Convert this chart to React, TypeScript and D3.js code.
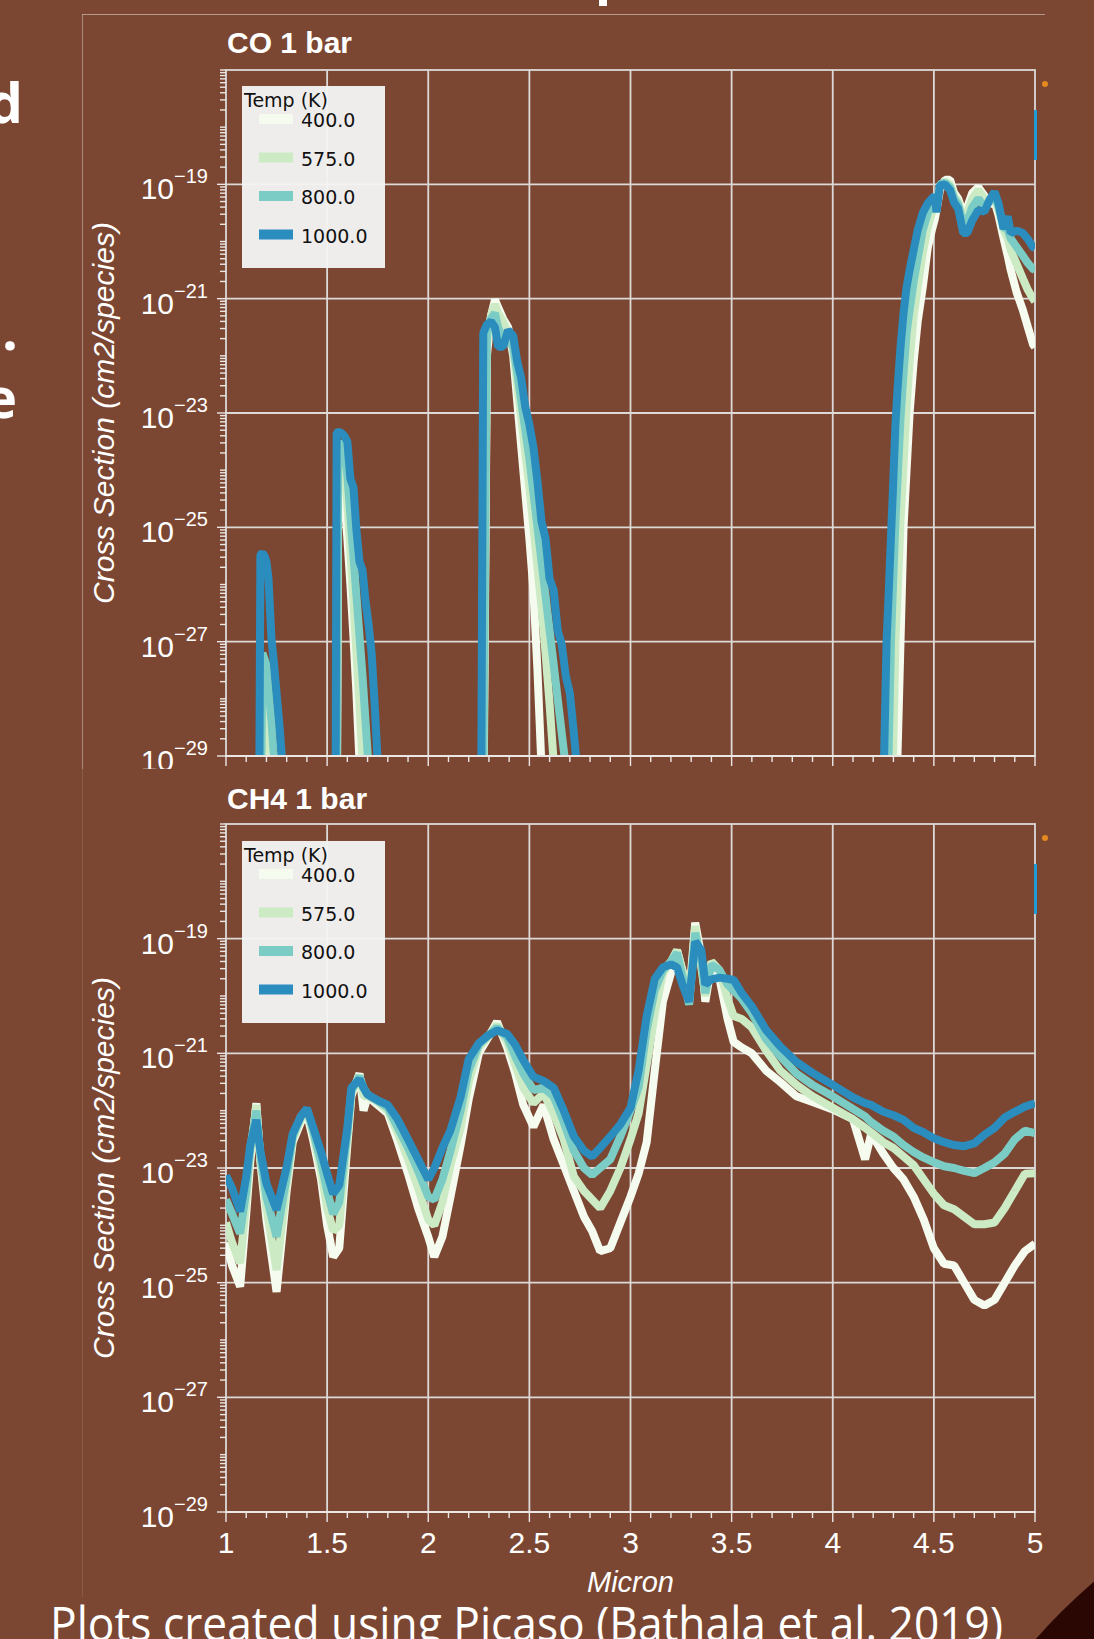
import React from "react";
import * as d3 from "d3";

const WIDTH = 1094;
const HEIGHT = 1639;

// ---------- legend / series meta ----------
const tempLabels = ["400.0", "575.0", "800.0", "1000.0"];
const tempColors = ["#f5fbee", "#ccebc5", "#7bccc4", "#2b8cbe"];

// ---------- axes ----------
const xTickValues = [1, 1.5, 2, 2.5, 3, 3.5, 4, 4.5, 5];
const xTickLabels = ["1", "1.5", "2", "2.5", "3", "3.5", "4", "4.5", "5"];
const yLabelExponents = [-19, -21, -23, -25, -27, -29];

// ---------- CO 1 bar (values are log10 of cross section, cm2/species) ----------
const coWavelength = [
  1.0,
  1.155, 1.165, 1.17, 1.18, 1.19, 1.2, 1.21, 1.225, 1.235, 1.25, 1.265, 1.28, 1.295,
  1.535, 1.542, 1.547, 1.555, 1.57, 1.585, 1.6, 1.615, 1.63, 1.645, 1.66, 1.675, 1.69, 1.705, 1.72, 1.735, 1.75, 1.765,
  2.25, 2.262, 2.272, 2.29, 2.31, 2.33, 2.345, 2.37, 2.395, 2.42, 2.44, 2.46, 2.48, 2.5, 2.52, 2.54, 2.56, 2.58, 2.6, 2.62, 2.64, 2.66, 2.68, 2.7, 2.72, 2.74, 2.76,
  4.23, 4.245, 4.254, 4.266, 4.276, 4.288, 4.298, 4.31, 4.32, 4.335, 4.35, 4.365, 4.38, 4.4, 4.42, 4.445, 4.47, 4.49, 4.505, 4.513, 4.53, 4.555, 4.58, 4.6, 4.62, 4.645, 4.665, 4.69, 4.72, 4.75, 4.775, 4.8, 4.82, 4.845, 4.865, 4.88, 4.91, 4.94, 4.965, 4.99, 5.0,
];
const coLog400 = [
  -31,
  -31, -31, -31, -31, -30, -28.5, -28.8, -29.4, -31, -31, -31, -31, -31,
  -31, -31, -31, -24.4, -24.2, -24.4, -25.2, -26.0, -26.9, -27.9, -29.1, -31, -31, -31, -31, -31, -31, -31,
  -31, -31, -30.5, -22.0, -21.3, -21.02, -21.15, -21.35, -21.5, -22.0, -22.8, -23.6, -24.4, -25.2, -26.1, -27.5, -29.2, -31, -31, -31, -31, -31, -31, -31, -31, -31, -31,
  -31, -31, -31, -31, -31, -31, -31, -31, -29.0, -27.0, -25.0, -24.0, -23.0, -22.1, -21.4, -20.8, -20.1, -19.8, -19.6, -19.45, -19.1, -18.92, -18.92, -19.15, -19.25, -19.5, -19.4, -19.15, -19.05, -19.2, -19.35, -19.3, -19.55, -19.95, -20.25, -20.5, -20.9, -21.2, -21.5, -21.8, -21.85,
];
const coLog575 = [
  -31,
  -31, -31, -31, -30, -27.9, -28.0, -28.3, -28.9, -29.4, -31, -31, -31, -31,
  -31, -31, -30.5, -24.0, -23.8, -23.9, -24.6, -25.4, -26.3, -27.2, -28.1, -29.1, -31, -31, -31, -31, -31, -31,
  -31, -31, -30, -21.8, -21.3, -21.1, -21.25, -21.4, -21.6, -21.9, -22.5, -23.1, -23.7, -24.3, -25.0, -25.7, -26.4, -27.2, -28.1, -29.1, -31, -31, -31, -31, -31, -31, -31,
  -31, -31, -31, -31, -31, -31, -29.0, -27.0, -26.2, -24.9, -23.9, -22.9, -22.1, -21.3, -20.8, -20.2, -19.75, -19.5, -19.4, -19.3, -19.05, -18.95, -19.0, -19.2, -19.3, -19.6, -19.5, -19.25, -19.1, -19.25, -19.3, -19.25, -19.45, -19.8, -19.95, -20.15, -20.4, -20.65, -20.85, -21.0, -21.05,
];
const coLog800 = [
  -31,
  -31, -31, -31, -27.2, -27.3, -27.4, -27.8, -28.4, -28.9, -29.5, -31, -31, -31,
  -31, -31, -29.8, -23.6, -23.5, -23.6, -24.1, -24.8, -25.5, -26.2, -26.9, -27.6, -28.4, -29.2, -31, -31, -31, -31,
  -31, -31, -29.5, -21.6, -21.35, -21.25, -21.5, -21.7, -21.7, -21.85, -22.3, -22.8, -23.3, -23.8, -24.4, -25.0, -25.6, -26.2, -26.8, -27.4, -28.0, -28.6, -29.2, -31, -31, -31, -31,
  -31, -31, -31, -31, -29.0, -27.0, -26.0, -24.9, -24.2, -23.1, -22.3, -21.6, -21.2, -20.7, -20.3, -19.8, -19.5, -19.35, -19.25, -19.35, -19.0, -18.97, -19.05, -19.25, -19.35, -19.7, -19.65, -19.4, -19.25, -19.4, -19.3, -19.2, -19.4, -19.75, -19.8, -19.95, -20.1, -20.25, -20.38, -20.48, -20.5,
];
const coLog1000 = [
  -31,
  -31, -29.3, -25.48, -25.45, -25.5, -25.6, -25.9, -26.97, -27.3, -27.9, -28.5, -29.2, -31,
  -31, -29.5, -23.35, -23.33, -23.35, -23.4, -23.5, -24.15, -24.3, -25.05, -25.6, -25.75, -26.3, -26.7, -27.2, -28.1, -29.1, -31,
  -31, -29.5, -21.6, -21.45, -21.4, -21.5, -21.84, -21.84, -21.55, -21.65, -22.1, -22.4, -22.9, -23.2, -23.6, -24.2, -24.9, -25.2, -25.9, -26.1, -26.8, -27.05, -27.6, -27.9, -28.6, -29.4, -31,
  -31, -31, -29.0, -27.0, -26.2, -25.15, -24.3, -23.2, -22.6, -21.85, -21.25, -20.8, -20.5, -20.15, -19.8, -19.5, -19.33, -19.25, -19.2, -19.49, -19.02, -19.0, -19.1, -19.32, -19.42, -19.85, -19.85, -19.63, -19.45, -19.48, -19.27, -19.13, -19.34, -19.78, -19.56, -19.85, -19.81, -19.85, -19.96, -20.1, -20.12,
];

// ---------- CH4 1 bar (log10 of cross section) ----------
const ch4Wavelength = [
  1.0, 1.03, 1.07, 1.1, 1.12, 1.15, 1.17, 1.2, 1.25, 1.3,
  1.33, 1.37, 1.4, 1.43, 1.47, 1.5, 1.53, 1.56, 1.6, 1.62,
  1.66, 1.68, 1.7, 1.75, 1.8, 1.85, 1.9, 1.95, 2.0, 2.03,
  2.07, 2.11, 2.16, 2.2, 2.25, 2.3, 2.34, 2.39, 2.43, 2.47,
  2.52, 2.57, 2.62, 2.67, 2.72, 2.77, 2.81, 2.85, 2.9, 2.95,
  3.0, 3.04, 3.08, 3.12, 3.16, 3.2, 3.23, 3.26, 3.29, 3.32,
  3.35, 3.37, 3.4, 3.44, 3.48, 3.51, 3.55, 3.6, 3.67, 3.74,
  3.82, 3.9, 4.0, 4.1, 4.16, 4.19, 4.25, 4.3, 4.35, 4.4,
  4.45, 4.5, 4.55, 4.6, 4.65, 4.7, 4.75, 4.8, 4.85, 4.9,
  4.95, 5.0,
];
const ch4Log400 = [
  -24.3, -24.7, -25.07, -23.8, -22.9, -21.87, -22.9, -23.9, -25.16, -23.4,
  -22.55, -22.2, -22.05, -22.5, -23.2, -24.0, -24.55, -24.4, -22.6, -21.75,
  -21.35, -22.0, -21.75, -21.9, -22.05, -22.55, -23.1, -23.7, -24.2, -24.55,
  -24.2, -23.5, -22.6, -21.8, -21.0, -20.7, -20.45, -20.9, -21.35, -21.9,
  -22.28, -21.9, -22.5, -22.95, -23.4, -23.85, -24.1, -24.45, -24.4, -23.95,
  -23.5, -23.1, -22.55, -21.3, -20.1, -19.6, -19.2, -19.6, -20.0, -18.72,
  -19.3, -20.1, -19.45, -19.7, -20.4, -20.8, -20.9, -21.0, -21.3, -21.5,
  -21.75, -21.85, -21.98, -22.15, -22.85, -22.4, -22.75, -23.0, -23.2, -23.5,
  -23.9, -24.4, -24.67, -24.7, -25.0, -25.3, -25.4, -25.3, -25.0, -24.7,
  -24.45, -24.32,
];
const ch4Log575 = [
  -23.95, -24.3, -24.66, -23.6, -22.75, -21.9, -22.85, -23.7, -24.78, -23.3,
  -22.5, -22.15, -22.0, -22.4, -23.05, -23.7, -24.1, -24.0, -22.5, -21.7,
  -21.38, -21.75, -21.75, -21.85, -22.0, -22.4, -22.85, -23.35, -23.9, -24.0,
  -23.6, -22.95, -22.3, -21.5, -20.9, -20.7, -20.5, -20.8, -21.2, -21.6,
  -21.87, -21.7, -22.05, -22.5, -23.15, -23.4, -23.55, -23.7, -23.4, -23.0,
  -22.5, -22.05, -21.2, -20.3, -19.6, -19.4, -19.2, -19.6, -20.1, -18.78,
  -19.5, -20.0, -19.4, -19.55, -20.05, -20.35, -20.4, -20.55, -20.95, -21.3,
  -21.55, -21.75, -21.95, -22.15, -22.3, -22.38, -22.55, -22.65, -22.8, -22.95,
  -23.2, -23.45, -23.65, -23.72, -23.85, -23.98, -23.98, -23.95, -23.7, -23.4,
  -23.1, -23.09,
];
const ch4Log800 = [
  -23.55, -23.8, -24.14, -23.4, -22.65, -22.0, -22.8, -23.5, -24.2, -23.15,
  -22.45, -22.1, -21.98, -22.35, -22.9, -23.4, -23.8, -23.6, -22.4, -21.65,
  -21.4, -21.6, -21.72, -21.83, -21.95, -22.3, -22.65, -23.05, -23.5, -23.55,
  -23.2, -22.7, -22.0, -21.3, -20.85, -20.68, -20.55, -20.72, -21.05, -21.35,
  -21.64, -21.6, -21.75, -22.2, -22.7, -23.0, -23.12, -23.0, -22.85, -22.45,
  -22.0, -21.6, -20.6, -19.9, -19.55, -19.4, -19.25, -19.7, -20.15, -18.9,
  -19.4, -19.95, -19.45, -19.55, -19.8, -19.9, -20.05, -20.3, -20.75, -21.05,
  -21.35, -21.55, -21.75, -21.97, -22.1, -22.2, -22.35, -22.45, -22.6, -22.72,
  -22.82, -22.9, -22.97, -23.0, -23.05, -23.09, -23.0, -22.9, -22.75, -22.5,
  -22.35, -22.39,
];
const ch4Log1000 = [
  -23.13, -23.35, -23.76, -23.15, -22.6, -22.16, -22.7, -23.27, -23.73, -22.98,
  -22.4, -22.1, -21.96, -22.28, -22.72, -23.1, -23.45, -23.3, -22.3, -21.6,
  -21.45, -21.6, -21.72, -21.82, -21.9, -22.16, -22.5, -22.85, -23.2, -23.0,
  -22.65, -22.34, -21.76, -21.1, -20.82, -20.68, -20.6, -20.66, -20.85, -21.12,
  -21.41, -21.48, -21.6, -22.0, -22.45, -22.7, -22.8, -22.65, -22.45, -22.24,
  -21.95, -21.3, -20.35, -19.7, -19.5, -19.45, -19.5, -19.83, -20.1, -19.05,
  -19.2, -19.8, -19.71, -19.68, -19.7, -19.72, -19.95, -20.18, -20.59, -20.88,
  -21.15, -21.34, -21.55, -21.77, -21.87, -21.9, -22.02, -22.08, -22.16, -22.3,
  -22.38, -22.48, -22.55, -22.6, -22.62, -22.57, -22.42, -22.3, -22.12, -22.02,
  -21.93, -21.87,
];

const coSeries = [coLog400, coLog575, coLog800, coLog1000];
const ch4Series = [ch4Log400, ch4Log575, ch4Log800, ch4Log1000];

// ---------- styling ----------
const BG = "#7b4733";
const GRID = "#dcd9d7";
const TICK = "#ebe7e5";
const SANS = "'Liberation Sans', Arial, Helvetica, sans-serif";
const LEGEND_FONT = "'DejaVu Sans', Verdana, sans-serif";
const PLOT_LEFT = 226;
const PLOT_RIGHT = 1035;

type PanelProps = {
  id: string;
  title: string;
  titleY: number;
  top: number;
  bottom: number;
  wl: number[];
  series: number[][];
  legendTop: number;
  showXLabels: boolean;
};

function Panel({ id, title, titleY, top, bottom, wl, series, legendTop, showXLabels }: PanelProps) {
  const x = d3.scaleLinear().domain([1, 5]).range([PLOT_LEFT, PLOT_RIGHT]);
  const y = d3.scaleLog().domain([1e-29, 1e-17]).range([bottom, top]);

  const line = d3
    .line<number>()
    .defined((v, i) => v != null && wl[i] != null)
    .x((_, i) => x(wl[i]))
    .y((v) => y(Math.pow(10, v)));

  // minor + major y ticks
  const yTicks: { v: number; major: boolean }[] = [];
  for (let e = -29; e <= -17; e++) {
    for (let k = 1; k <= 9; k++) {
      const v = k * Math.pow(10, e);
      if (v > 1.0001e-17) continue;
      yTicks.push({ v, major: k === 1 && yLabelExponents.includes(e) });
    }
  }
  const xMinor = d3.range(10, 51).map((d) => d / 10);

  const centerY = (top + bottom) / 2;

  return (
    <g>
      <defs>
        <clipPath id={`plot-${id}`}>
          <rect x={PLOT_LEFT} y={top} width={PLOT_RIGHT - PLOT_LEFT} height={bottom - top} />
        </clipPath>
      </defs>

      <text x={227} y={titleY} fill="#ffffff" fontFamily={SANS} fontWeight="bold" fontSize={30}>
        {title}
      </text>

      {/* grid */}
      {xTickValues.slice(1, -1).map((t) => (
        <line key={`gx${t}`} x1={x(t)} x2={x(t)} y1={top} y2={bottom} stroke={GRID} strokeWidth={1.8} />
      ))}
      {yLabelExponents.map((e) => (
        <line
          key={`gy${e}`}
          x1={PLOT_LEFT}
          x2={PLOT_RIGHT}
          y1={y(Math.pow(10, e))}
          y2={y(Math.pow(10, e))}
          stroke={GRID}
          strokeWidth={1.8}
        />
      ))}
      <rect
        x={PLOT_LEFT}
        y={top}
        width={PLOT_RIGHT - PLOT_LEFT}
        height={bottom - top}
        fill="none"
        stroke={GRID}
        strokeWidth={1.8}
      />

      {/* series */}
      <g clipPath={`url(#plot-${id})`}>
        {series.map((s, i) => (
          <path
            key={`s${i}`}
            d={line(s) || ""}
            fill="none"
            stroke={tempColors[i]}
            strokeWidth={8}
            strokeLinejoin="bevel"
          />
        ))}
      </g>

      {/* y ticks */}
      {yTicks.map((t, i) => (
        <line
          key={`yt${i}`}
          x1={PLOT_LEFT - (t.major ? 9 : 6)}
          x2={PLOT_LEFT}
          y1={y(t.v)}
          y2={y(t.v)}
          stroke={TICK}
          strokeWidth={1.4}
        />
      ))}
      {yLabelExponents.map((e) => {
        const yy = y(Math.pow(10, e));
        return (
          <text
            key={`yl${e}`}
            x={208}
            y={yy + 15}
            textAnchor="end"
            fill="#ffffff"
            fontFamily={SANS}
            fontSize={30}
          >
            10
            <tspan dy={-16} fontSize={20}>
              {"\u2212" + Math.abs(e)}
            </tspan>
          </text>
        );
      })}

      {/* x ticks */}
      <line x1={PLOT_LEFT} x2={PLOT_RIGHT} y1={bottom} y2={bottom} stroke={TICK} strokeWidth={1.8} />
      {xMinor.map((t) => {
        const major = Math.abs(t * 2 - Math.round(t * 2)) < 1e-6;
        return (
          <line
            key={`xt${t}`}
            x1={x(t)}
            x2={x(t)}
            y1={bottom}
            y2={bottom + (major ? 10 : 6)}
            stroke={TICK}
            strokeWidth={1.4}
          />
        );
      })}
      {showXLabels &&
        xTickValues.map((t, i) => (
          <text
            key={`xl${t}`}
            x={x(t)}
            y={bottom + 41}
            textAnchor="middle"
            fill="#ffffff"
            fontFamily={SANS}
            fontSize={30}
          >
            {xTickLabels[i]}
          </text>
        ))}

      {/* y axis title */}
      <text
        transform={`translate(114,${centerY}) rotate(-90)`}
        textAnchor="middle"
        fill="#ffffff"
        fontFamily={SANS}
        fontStyle="italic"
        fontSize={30}
      >
        Cross Section (cm2/species)
      </text>

      {/* legend */}
      <g>
        <rect x={242} y={legendTop} width={143} height={182} fill="#f4f4f4" fillOpacity={0.96} />
        <text x={244} y={legendTop + 21} fill="#111" fontFamily={LEGEND_FONT} fontSize={19}>
          Temp (K)
        </text>
        {tempLabels.map((lab, i) => (
          <g key={`lg${i}`}>
            <rect x={259} y={legendTop + 33 + i * 38.5 - 5} width={34} height={10} fill={tempColors[i]} />
            <text x={301} y={legendTop + 41 + i * 38.5} fill="#111" fontFamily={LEGEND_FONT} fontSize={19}>
              {lab}
            </text>
          </g>
        ))}
      </g>

      {/* toolbar remnants at right edge */}
      <rect x={1034} y={top + 40} width={3} height={50} fill="#1e9bd7" />
      <circle cx={1045} cy={top + 14} r={3} fill="#e58a1f" />
    </g>
  );
}

export default function App() {
  return (
    <div style={{ position: "absolute", left: 0, top: 0, width: WIDTH, height: HEIGHT, overflow: "hidden" }}>
      <svg width={WIDTH} height={HEIGHT} viewBox={`0 0 ${WIDTH} ${HEIGHT}`} style={{ display: "block" }}>
        <defs>
          <clipPath id="topCut">
            <rect x={0} y={0} width={WIDTH} height={769} />
          </clipPath>
        </defs>
        <rect x={0} y={0} width={WIDTH} height={HEIGHT} fill={BG} />

        {/* dark corner of the slide */}
        <circle cx={1500} cy={2050} r={620} fill="#2b0704" />

        {/* cut-off slide text at the left */}
        <g fill="#ffffff" fontFamily="'Open Sans', 'Liberation Sans', sans-serif" fontWeight="bold" fontSize={56}>
          <text x={23} y={123} textAnchor="end">d</text>
          <text x={18} y={350} textAnchor="end">.</text>
          <text x={17} y={418} textAnchor="end">e</text>
        </g>
        <rect x={599} y={0} width={8} height={6} fill="#ffffff" />

        {/* image frames */}
        <line x1={82} x2={1045} y1={14.5} y2={14.5} stroke="#e8dcd6" strokeOpacity={0.55} strokeWidth={1.2} />
        <line x1={82.5} x2={82.5} y1={14.5} y2={769} stroke="#e8dcd6" strokeOpacity={0.4} strokeWidth={1.2} />
        <line x1={82.5} x2={82.5} y1={769} y2={1597} stroke="#e8dcd6" strokeOpacity={0.12} strokeWidth={1.2} />

        <g clipPath="url(#topCut)">
          <Panel
            id="co"
            title="CO 1 bar"
            titleY={53}
            top={70}
            bottom={756}
            wl={coWavelength}
            series={coSeries}
            legendTop={86}
            showXLabels={false}
          />
        </g>

        <Panel
          id="ch4"
          title="CH4 1 bar"
          titleY={809}
          top={824}
          bottom={1512}
          wl={ch4Wavelength}
          series={ch4Series}
          legendTop={841}
          showXLabels={true}
        />

        <text
          x={630.5}
          y={1592}
          textAnchor="middle"
          fill="#ffffff"
          fontFamily={SANS}
          fontStyle="italic"
          fontSize={29}
        >
          Micron
        </text>

        <text
          x={50}
          y={1641}
          fill="#ffffff"
          fontFamily="'Open Sans', 'Noto Sans', sans-serif"
          fontSize={47}
          textLength={953}
          lengthAdjust="spacingAndGlyphs"
        >
          Plots created using Picaso (Bathala et al. 2019)
        </text>
      </svg>
    </div>
  );
}
